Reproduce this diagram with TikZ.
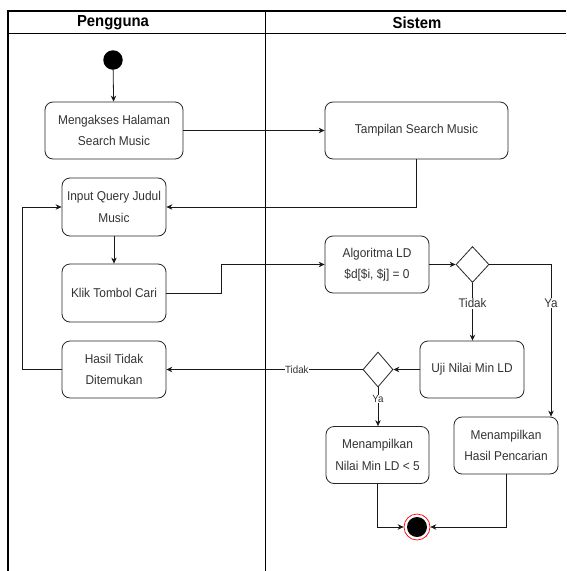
\documentclass[tikz,border=0pt]{standalone}
\usepackage{fontspec}
\setmainfont{Liberation Sans}
\newfontfamily\narrowfont[FakeStretch=0.93]{Liberation Sans}
\usetikzlibrary{arrows.meta,shapes.geometric,calc}
\begin{document}
\begin{tikzpicture}[x=1pt,y=-1pt,
  box/.style={draw=black!85, rounded corners=8pt, fill=white, align=center,
    text=black!80, font=\narrowfont\fontsize{12.8}{21.5}\selectfont, inner sep=0pt, line width=0.8pt},
  dec/.style={draw=black!85, diamond, fill=white, inner sep=0pt, line width=0.8pt},
  lbl/.style={fill=white, text=black!80, font=\narrowfont\fontsize{12.5}{14}\selectfont, inner sep=1pt},
  slbl/.style={fill=white, text=black!80, font=\narrowfont\fontsize{10.5}{12}\selectfont, inner sep=0.5pt},
  hdr/.style={font=\narrowfont\fontsize{16}{18}\selectfont\bfseries, text=black},
  conn/.style={draw=black!90, line width=0.8pt, -{Stealth[length=6pt,width=5.5pt]}},
  plain/.style={draw=black!90, line width=0.8pt}]
\useasboundingbox[fill=white] (0,0) rectangle (566,571);
% swimlanes
\draw[line width=0.8pt] (8,33) -- (566,33);
\draw[line width=0.8pt] (265,11) -- (265,571);
\draw[line width=2.5pt] (8,571) -- (8,11) -- (566,11);
\node[hdr] (hu) at (113,23) {Pengguna};
\node[hdr] (hs) at (417,23) {Sistem};
% nodes
\node[circle, fill=black, minimum size=19.5pt, inner sep=0pt] (start) at (113,60) {};
\node[box, minimum width=138pt, minimum height=57pt] (m1) at (114,130.5) {Mengakses Halaman\\Search Music};
\node[box, minimum width=183pt, minimum height=57pt] (t1) at (416.5,130.5) {Tampilan Search Music};
\node[box, minimum width=104pt, minimum height=58pt] (iq) at (114,207) {Input Query Judul\\Music};
\node[box, minimum width=104pt, minimum height=58pt] (kc) at (114,293) {Klik Tombol Cari};
\node[box, minimum width=104pt, minimum height=57pt] (ht) at (114,369.5) {Hasil Tidak\\Ditemukan};
\node[box, minimum width=104pt, minimum height=57pt] (al) at (377,264.5) {Algoritma LD\\\$d[\$i, \$j] = 0};
\node[dec, minimum width=33pt, minimum height=36pt] (d1) at (472.5,264.5) {};
\node[box, minimum width=104pt, minimum height=57pt] (uj) at (472,369.5) {Uji Nilai Min LD};
\node[dec, minimum width=30pt, minimum height=35pt] (d2) at (378,369.5) {};
\node[box, minimum width=103pt, minimum height=57pt] (mn) at (377.5,455) {Menampilkan\\Nilai Min LD < 5};
\node[box, minimum width=104pt, minimum height=57pt] (mh) at (506,445.5) {Menampilkan\\Hasil Pencarian};
\node[circle, draw=red, line width=0.7pt, fill=white, minimum size=26pt, inner sep=0pt,
  path picture={\fill[black] (path picture bounding box.center) circle (10pt);}] (end) at (417,527) {};
\coordinate (yx) at (551,0);
\coordinate (kx) at (221,0);
\coordinate (lx) at (22,0);
% connectors
\draw[conn] (start) -- (m1);
\draw[conn] (m1) -- (t1);
\draw[conn] (t1.south) |- (iq.east);
\draw[conn] (iq) -- (kc);
\draw[conn] (kc.east) -- (kc.east -| kx) |- (al.west);
\draw[conn] (al) -- (d1);
\draw[conn] (d1.east) -| node[lbl, pos=0.627] (ya1) {Ya} (mh.north -| yx);
\draw[conn] (d1.south) -- node[lbl, pos=0.35] (td1) {Tidak} (d1.south |- uj.north);
\draw[conn] (uj) -- (d2);
\draw[conn] (d2.west) -- node[slbl, pos=0.335] (td2) {Tidak} (ht.east);
\draw[conn] (d2.south) -- node[slbl, pos=0.3] (ya2) {Ya} (d2.south |- mn.north);
\draw[conn] (mn.south) |- (end.west);
\draw[conn] (mh.south) |- (end.east);
\draw[conn] (ht.west) -- (ht.west -| lx) |- (iq.west);
\end{tikzpicture}
\end{document}
